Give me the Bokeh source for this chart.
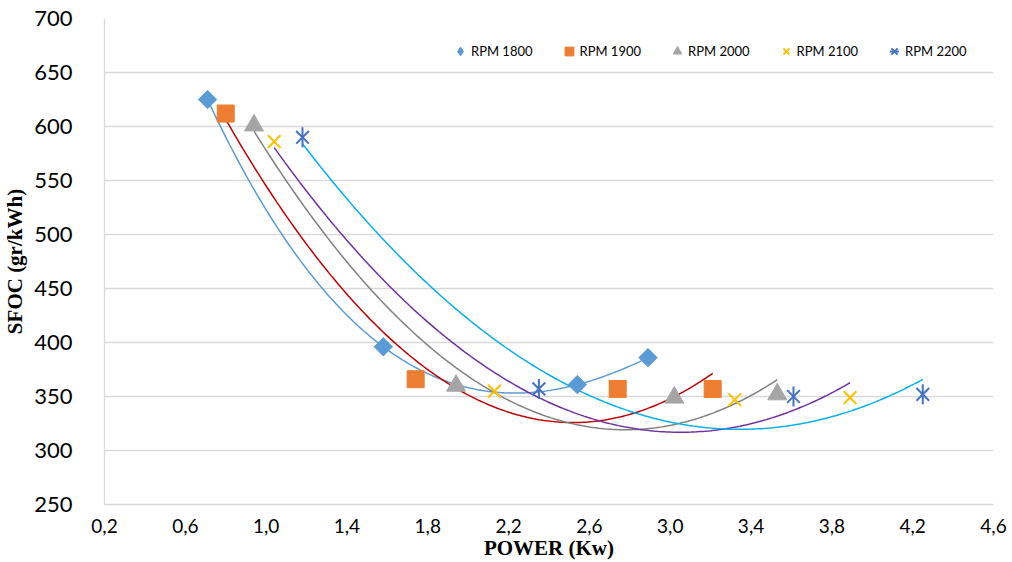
import numpy as np
from bokeh.plotting import figure
from bokeh.models import FixedTicker, Legend, LegendItem, Range1d
from bokeh.embed import file_html
from bokeh.resources import INLINE

# Engine speed series (RPM) with measured power [kW] and SFOC [gr/kWh]
series_names = ["RPM 1800", "RPM 1900", "RPM 2000", "RPM 2100", "RPM 2200"]

power_1800 = [0.71, 1.58, 2.54, 2.89]
sfoc_1800 = [625, 396, 361, 386]

power_1900 = [0.80, 1.74, 2.74, 3.21]
sfoc_1900 = [612, 366, 357, 357]

power_2000 = [0.94, 1.94, 3.02, 3.53]
sfoc_2000 = [601, 360, 349, 352]

power_2100 = [1.04, 2.13, 3.32, 3.89]
sfoc_2100 = [586, 355, 347, 349]

power_2200 = [1.18, 2.35, 3.61, 4.25]
sfoc_2200 = [590, 357, 350, 352]

# polynomial order of each series' trend line
trend_order = [3, 2, 2, 2, 2]

x_ticks = [0.2, 0.6, 1.0, 1.4, 1.8, 2.2, 2.6, 3.0, 3.4, 3.8, 4.2, 4.6]
x_tick_labels = ["0,2", "0,6", "1,0", "1,4", "1,8", "2,2", "2,6", "3,0", "3,4", "3,8", "4,2", "4,6"]
y_ticks = [250, 300, 350, 400, 450, 500, 550, 600, 650, 700]

powers = [power_1800, power_1900, power_2000, power_2100, power_2200]
sfocs = [sfoc_1800, sfoc_1900, sfoc_2000, sfoc_2100, sfoc_2200]

marker_colors = ["#5b9bd5", "#ed7d31", "#a5a5a5", "#ffc000", "#4472c4"]
trend_colors = ["#5b9bd5", "#c00000", "#808080", "#7030a0", "#00b0f0"]

p = figure(
    width=1012, height=562,
    x_range=Range1d(0.2, 4.6), y_range=Range1d(250, 700),
    output_backend="svg", toolbar_location=None,
    min_border_left=102, min_border_right=19,
    min_border_top=18, min_border_bottom=57,
)
p.outline_line_color = None
p.background_fill_color = "white"

grid_color = "#d9d9d9"
p.xgrid.grid_line_color = None
p.ygrid.grid_line_color = grid_color
p.ygrid.grid_line_width = 1.3

p.xaxis.ticker = FixedTicker(ticks=x_ticks)
p.xaxis.major_label_overrides = {t: lab for t, lab in zip(x_ticks, x_tick_labels)}
p.yaxis.ticker = FixedTicker(ticks=y_ticks)

for ax in (p.xaxis[0], p.yaxis[0]):
    ax.axis_line_color = grid_color
    ax.axis_line_width = 1.3
    ax.major_tick_line_color = None
    ax.minor_tick_line_color = None
    ax.major_label_text_color = "black"
    ax.major_label_text_font = "Lato"
    ax.axis_label_text_font = "Liberation Serif"
    ax.axis_label_text_font_style = "bold"
    ax.axis_label_text_color = "black"
    ax.axis_label_text_font_size = "21px"

p.xaxis.major_label_text_font_size = "19px"
p.xaxis.major_label_standoff = 8
p.xaxis.axis_label = "POWER (Kw)"
p.xaxis.axis_label_standoff = 0

p.yaxis.major_label_text_font_size = "22px"
p.yaxis.major_label_standoff = 26
p.yaxis.axis_label = "SFOC (gr/kWh)"
p.yaxis.axis_label_standoff = 4

# polynomial trend lines drawn over each series' own power range
for xs, ys, order, color in zip(powers, sfocs, trend_order, trend_colors):
    coeffs = np.polyfit(xs, ys, order)
    xf = np.linspace(min(xs), max(xs), 200)
    p.line(xf, np.polyval(coeffs, xf), line_color=color, line_width=1.5)

# measured points; the 1800 series uses an upright diamond for its legend key
# (legend swatches are drawn unrotated) covered by the rotated-square markers
r1800_key = p.scatter(power_1800, sfoc_1800, marker="diamond", size=12,
                      fill_color=marker_colors[0], line_color=marker_colors[0])
r1800 = p.scatter(power_1800, sfoc_1800, marker="square", size=13, angle=np.pi / 4,
                  fill_color=marker_colors[0], line_color=marker_colors[0])
r1900 = p.scatter(power_1900, sfoc_1900, marker="square", size=17,
                  fill_color=marker_colors[1], line_color=marker_colors[1])
r2000 = p.scatter(power_2000, sfoc_2000, marker="triangle", size=19,
                  fill_color=marker_colors[2], line_color=marker_colors[2])
r2100 = p.scatter(power_2100, sfoc_2100, marker="x", size=18,
                  line_color=marker_colors[3], line_width=2)
r2200a = p.scatter(power_2200, sfoc_2200, marker="x", size=18,
                   line_color=marker_colors[4], line_width=2)
r2200b = p.scatter(power_2200, sfoc_2200, marker="dash", size=20, angle=np.pi / 2,
                   line_color=marker_colors[4], line_width=2)

items = [
    LegendItem(label=series_names[0], renderers=[r1800_key]),
    LegendItem(label=series_names[1], renderers=[r1900]),
    LegendItem(label=series_names[2], renderers=[r2000]),
    LegendItem(label=series_names[3], renderers=[r2100]),
    LegendItem(label=series_names[4], renderers=[r2200a, r2200b]),
]
legend = Legend(
    items=items, orientation="horizontal", location=(345, 442),
    glyph_width=22, glyph_height=22, label_standoff=0, spacing=25,
    padding=0, margin=0, border_line_color=None, background_fill_alpha=0,
    label_text_font="Lato", label_text_font_size="13px", label_text_color="black",
)
p.add_layout(legend)

open("out.html", "w").write(file_html(p, INLINE))
